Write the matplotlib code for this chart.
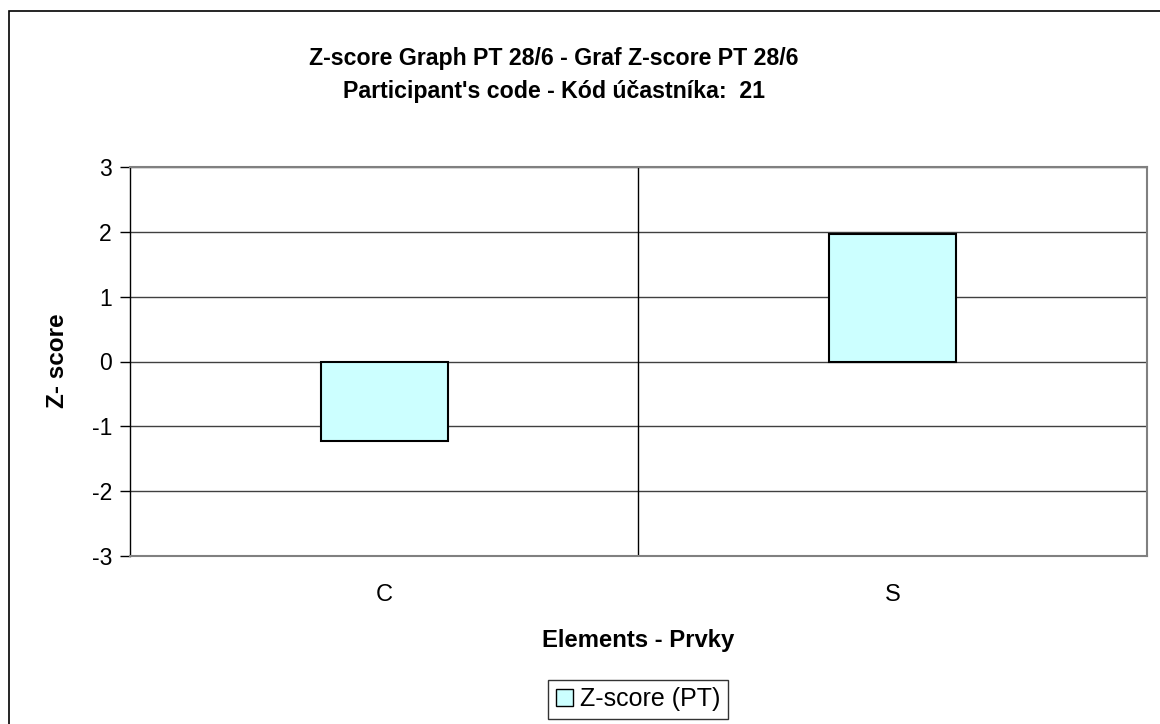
import matplotlib
matplotlib.use("Agg")
import matplotlib.pyplot as plt
from matplotlib.patches import Rectangle, Patch

plt.rcParams['font.family'] = ['Liberation Sans', 'DejaVu Sans']

categories = ["C", "S"]
zscores = [-1.23, 1.96]
yticks = [-3, -2, -1, 0, 1, 2, 3]
title = "Z-score Graph PT 28/6 - Graf Z-score PT 28/6\nParticipant's code - Kód účastníka:  21"

W, H = 1160, 724
fig = plt.figure(figsize=(W / 100, H / 100), dpi=100)

# outer chart border (left/top visible)
fig.patches.append(Rectangle((9 / W, -0.1), 1.2, (H - 11) / H + 0.1, transform=fig.transFigure,
                             fill=False, edgecolor='black', linewidth=1.2))

L, R, T, B = 130, 1147, 167, 556
ax = fig.add_axes([L / W, 1 - B / H, (R - L) / W, (B - T) / H])

x = list(range(len(categories)))
ax.bar(x, zscores, width=0.25, color='#CCFFFF', edgecolor='black', linewidth=1.5, zorder=3)

ax.set_xlim(-0.5, len(categories) - 0.5)
ax.set_ylim(-3, 3)
ax.set_yticks(yticks)
ax.set_yticklabels([str(v) for v in yticks], fontsize=16.5)
ax.set_xticks(x)
ax.set_xticklabels(categories, fontsize=17)
ax.tick_params(axis='x', length=0, pad=20)
ax.tick_params(axis='y', length=7, width=1, direction='out', pad=6)

for v in yticks:
    ax.axhline(v, color='#404040', linewidth=1, zorder=1)
for i in range(1, len(categories)):
    ax.axvline(i - 0.5, color='black', linewidth=1, zorder=1)

for s in ['top', 'right', 'bottom']:
    ax.spines[s].set_color('#808080')
    ax.spines[s].set_linewidth(1.5)
ax.spines['left'].set_color('black')
ax.spines['left'].set_linewidth(1)

fig.text(554 / W, 1 - 75 / H, title, ha='center', va='center', fontsize=16.7,
         fontweight='bold', linespacing=1.55)
fig.text(58 / W, 1 - 361 / H, "Z- score", rotation=90, ha='center', va='center',
         fontsize=17.5, fontweight='bold')
fig.text(638 / W, 1 - 640 / H, "Elements - Prvky", ha='center', va='center',
         fontsize=17.2, fontweight='bold')

handle = Patch(facecolor='#CCFFFF', edgecolor='black', linewidth=1)
leg = fig.legend([handle], ["Z-score (PT)"], loc='center', bbox_to_anchor=(638 / W, 1 - 699 / H),
                 fontsize=18, frameon=True, fancybox=False, edgecolor='black',
                 handlelength=0.7, handleheight=0.7, handletextpad=0.25, borderpad=0.3,
                 borderaxespad=0)
leg.get_frame().set_linewidth(1)

fig.savefig("out.png", dpi=100)
